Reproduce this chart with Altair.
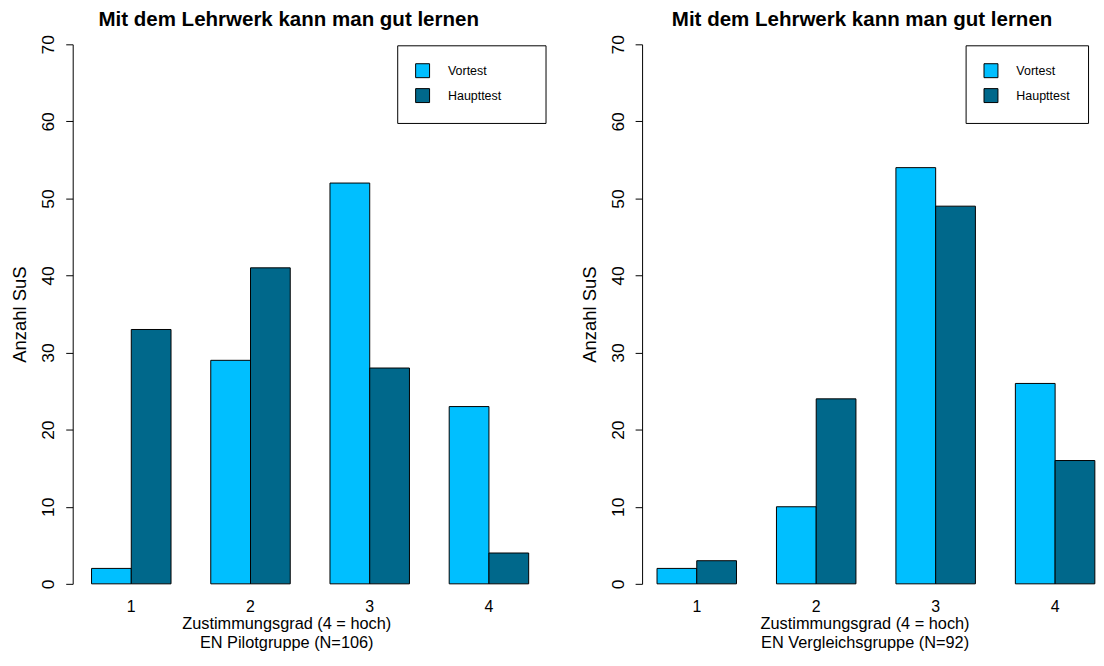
import altair as alt
import pandas as pd

categories = ["1", "2", "3", "4"]
series = ["Vortest", "Haupttest"]
pilot_vortest = [2, 29, 52, 23]
pilot_haupttest = [33, 41, 28, 4]
vergleich_vortest = [2, 10, 54, 26]
vergleich_haupttest = [3, 24, 49, 16]
y_ticks = [0, 10, 20, 30, 40, 50, 60, 70]
colors = ["#00BFFF", "#00688B"]

title_text = "Mit dem Lehrwerk kann man gut lernen"
x_title = "Zustimmungsgrad (4 = hoch)"
y_title = "Anzahl SuS"
pilot_label = "EN Pilotgruppe (N=106)"
vergleich_label = "EN Vergleichsgruppe (N=92)"

FONT = "Liberation Sans"


def frame(v, h):
    rows = []
    for c, a, b in zip(categories, v, h):
        rows.append({"Zustimmung": c, "Test": series[0], "Anzahl": a})
        rows.append({"Zustimmung": c, "Test": series[1], "Anzahl": b})
    return pd.DataFrame(rows)


def panel(df, group_label, width, pad_outer, align, title_dx, xtitle_x, legend_x, filler):
    label_expr = "datum.label + '" + filler + "'" if filler else "datum.label"
    return alt.Chart(df).mark_bar(stroke="black", strokeWidth=1, opacity=1).encode(
        x=alt.X("Zustimmung:N", sort=categories,
                scale=alt.Scale(paddingInner=1 / 3, paddingOuter=pad_outer, align=align),
                axis=alt.Axis(title=[x_title, group_label], labelAngle=0, domain=False, ticks=False,
                              labelPadding=15, labelFontSize=16, labelFont=FONT, labelColor="black",
                              titleFontSize=16.4, titleFont=FONT, titleFontWeight="normal",
                              titleColor="black", titleX=xtitle_x, titleY=45, titleAlign="center",
                              titleBaseline="alphabetic", titleLineHeight=19, titleAngle=0)),
        xOffset=alt.XOffset("Test:N", sort=series, scale=alt.Scale(paddingInner=0, paddingOuter=0)),
        y=alt.Y("Anzahl:Q", scale=alt.Scale(domain=[0, 70], nice=False, zero=True),
                axis=alt.Axis(title=y_title, values=y_ticks, grid=False, domainColor="black",
                              tickColor="black", tickSize=7, labelAngle=270, labelAlign="center",
                              labelBaseline="alphabetic", labelPadding=12, labelFontSize=17.5,
                              labelFont=FONT, labelColor="black", titleFontSize=18.5, titleFont=FONT,
                              titleFontWeight="normal", titleColor="black", titleAngle=270,
                              titleX=-47, titleBaseline="alphabetic", titleAlign="center")),
        color=alt.Color("Test:N", sort=series,
                        scale=alt.Scale(domain=series, range=colors),
                        legend=alt.Legend(title=None, orient="none", legendX=legend_x, legendY=1,
                                          direction="vertical", strokeColor="black",
                                          fillColor="white", cornerRadius=0, padding=18,
                                          symbolType="square", symbolSize=196,
                                          symbolStrokeColor="black", symbolStrokeWidth=1,
                                          symbolOpacity=1, labelFontSize=12.5, labelFont=FONT,
                                          labelColor="black", labelOffset=18, rowPadding=6,
                                          labelExpr=label_expr)),
    ).properties(
        width=width, height=542,
        title=alt.TitleParams(title_text, fontSize=20.6, font=FONT, fontWeight="bold",
                              color="black", anchor="middle", frame="group", dx=title_dx,
                              offset=-12, baseline="alphabetic"),
    )


left = panel(frame(pilot_vortest, pilot_haupttest), pilot_label, 477, 0.158, 0.5,
             -21.5, 214.5, 326, "\u2002\u2800\u2800")
right = panel(frame(vergleich_vortest, vergleich_haupttest), vergleich_label, 455, 0.0625, 1,
              -6.5, 223.5, 325, "")

chart = alt.hconcat(left, right, spacing=33).resolve_scale(color="independent").resolve_legend(
    color="independent"
).configure_view(stroke=None).properties(
    padding={"left": 3, "top": 0, "right": 0, "bottom": 0}, background="white"
)

chart.save("out.html", embed_options={"renderer": "svg", "actions": False})
